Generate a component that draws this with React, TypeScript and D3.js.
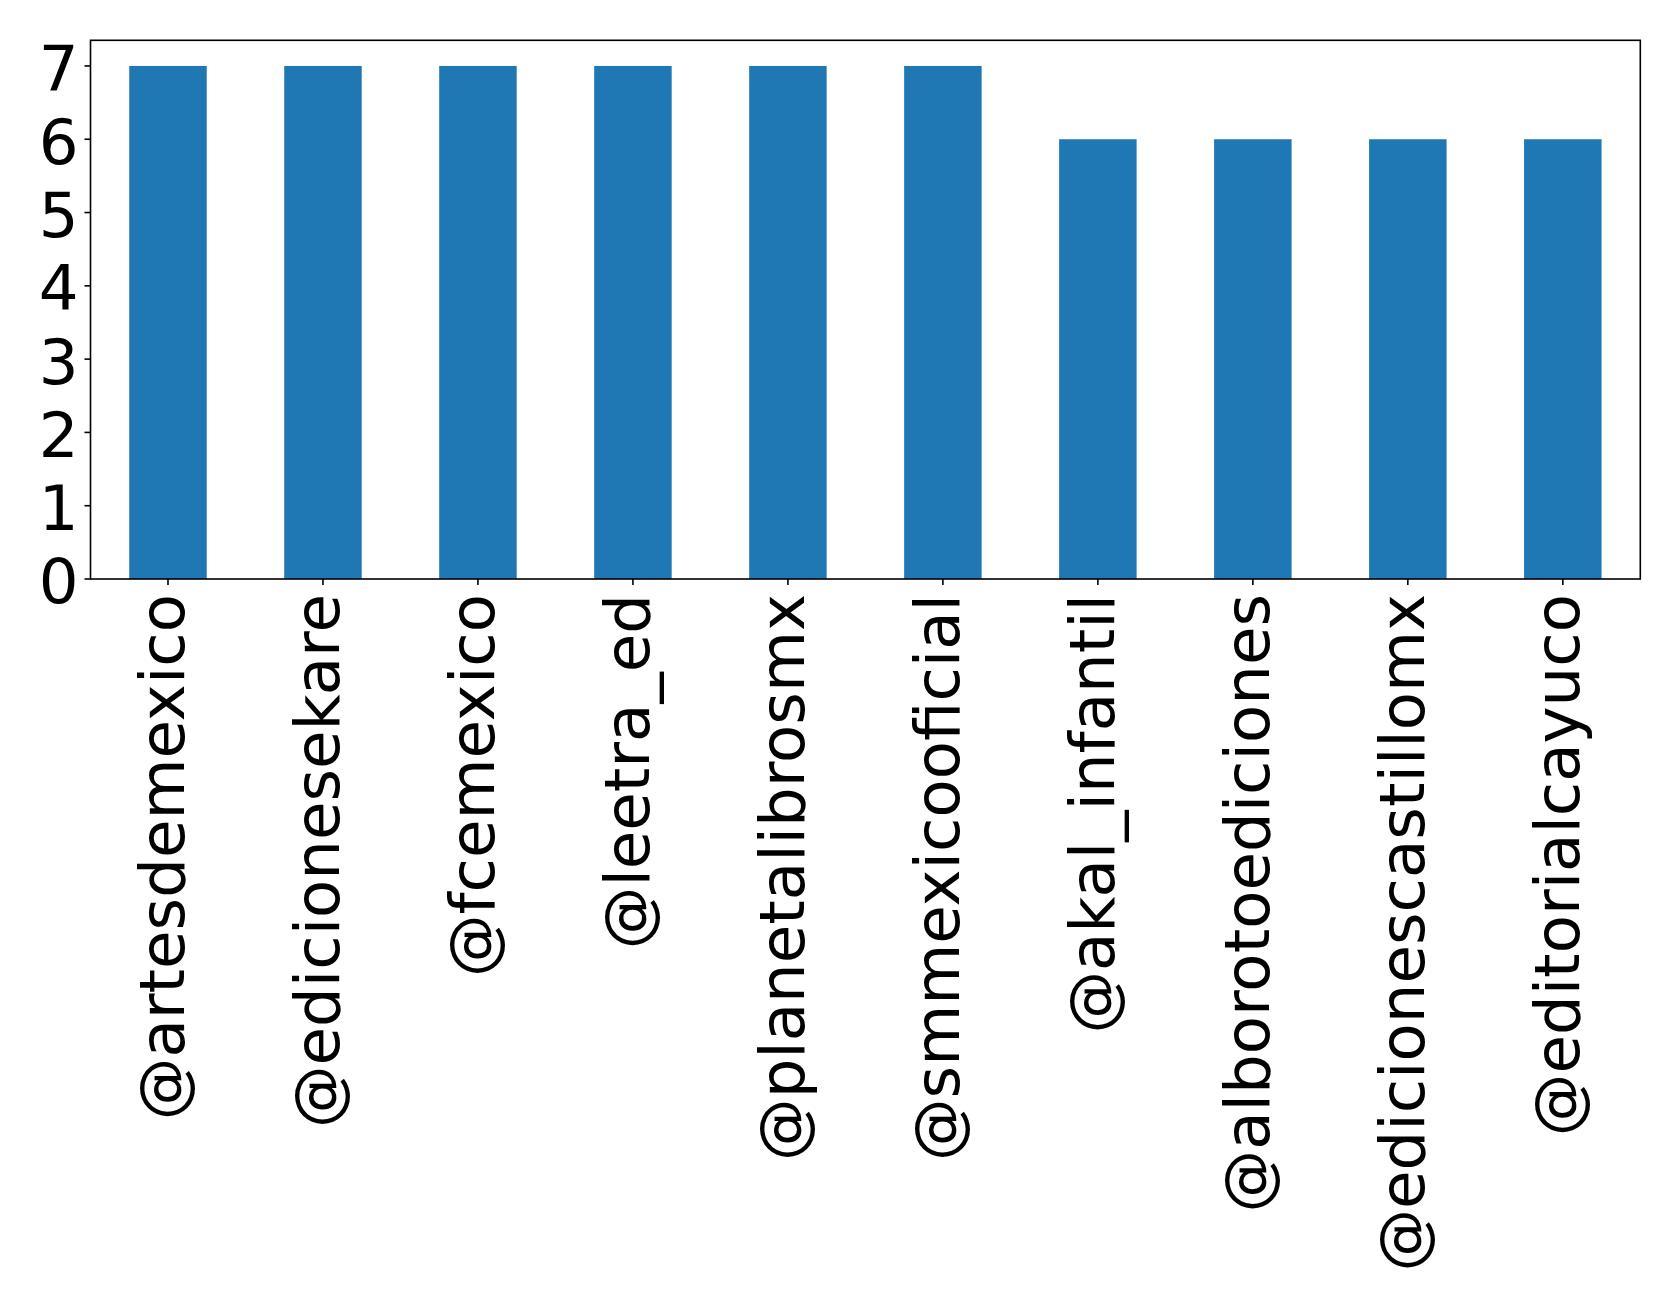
import React from "react";
import * as d3 from "d3";

const categories = [
  "@artesdemexico",
  "@edicionesekare",
  "@fcemexico",
  "@leetra_ed",
  "@planetalibrosmx",
  "@smmexicooficial",
  "@akal_infantil",
  "@alborotoediciones",
  "@edicionescastillomx",
  "@editorialcayuco",
];
const values = [7, 7, 7, 7, 7, 7, 6, 6, 6, 6];
const yTicks = [0, 1, 2, 3, 4, 5, 6, 7];

const W = 1679;
const H = 1305;
const left = 90.5;
const right = 1640.3;
const top = 40.3;
const bottom = 579;
const FONT = "DejaVu Sans";
const FS = 62.6;

export default function App() {
  const x = d3
    .scaleLinear()
    .domain([-0.5, categories.length - 0.5])
    .range([left, right]);
  const y = d3.scaleLinear().domain([0, 7.35]).range([bottom, top]);
  const barW = x(0.25) - x(-0.25);

  return (
    <svg
      width={W}
      height={H}
      style={{ position: "absolute", left: 0, top: 0, display: "block", background: "#fff" }}
      fontFamily={FONT}
    >
      {values.map((v, i) => (
        <rect
          key={i}
          x={x(i) - barW / 2}
          y={y(v)}
          width={barW}
          height={y(0) - y(v)}
          fill="#1f77b4"
        />
      ))}
      <rect
        x={left}
        y={top}
        width={right - left}
        height={bottom - top}
        fill="none"
        stroke="#000"
        strokeWidth={1.6}
      />
      {yTicks.map((t) => (
        <g key={t}>
          <line x1={left - 6} x2={left} y1={y(t)} y2={y(t)} stroke="#000" strokeWidth={1.6} />
          <text
            x={left - 12}
            y={y(t)}
            dy="0.39em"
            textAnchor="end"
            fontSize={FS}
            fill="#000"
          >
            {t}
          </text>
        </g>
      ))}
      {categories.map((c, i) => (
        <g key={c}>
          <line x1={x(i)} x2={x(i)} y1={bottom} y2={bottom + 6} stroke="#000" strokeWidth={1.6} />
          <text
            transform={`translate(${x(i)},${bottom + 15}) rotate(-90)`}
            dy="0.262em"
            textAnchor="end"
            fontSize={FS}
            fill="#000"
          >
            {c}
          </text>
        </g>
      ))}
    </svg>
  );
}
